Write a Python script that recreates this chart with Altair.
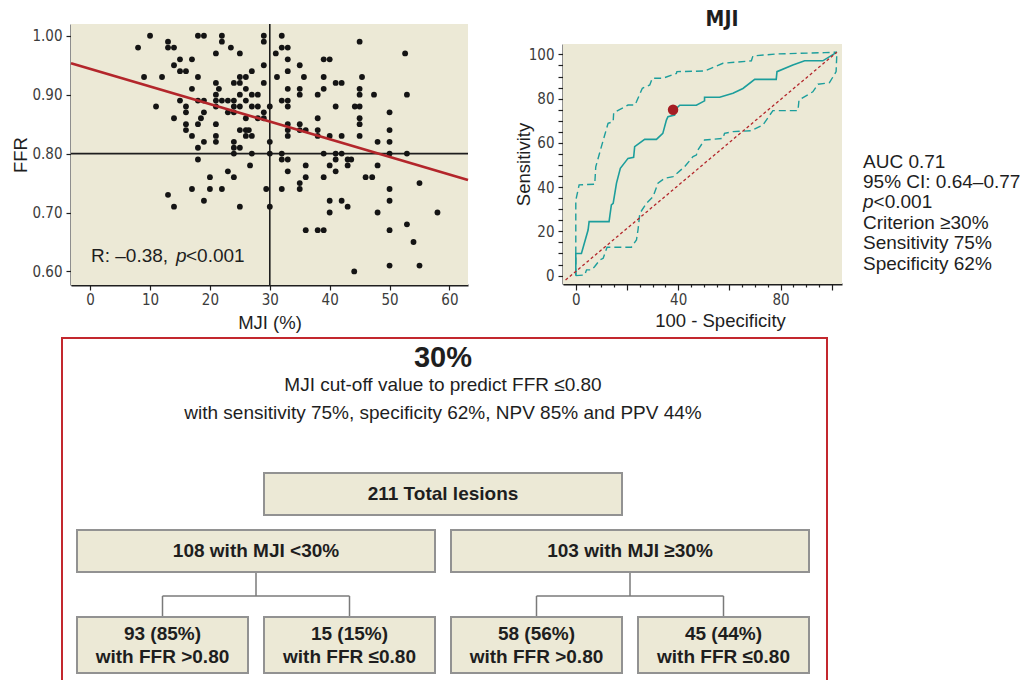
import altair as alt
import pandas as pd

W, H = 1031, 680

# ---------------- data ----------------
# Lesion-level values: myocardial jeopardy index (MJI, %) and FFR
lesion_mji = [
    8, 9, 10, 11, 12,
    13, 13, 13,
    14, 14, 14, 14,
    15, 15, 15,
    16, 16, 16, 16, 16,
    17, 17, 17, 17,
    18, 18, 18, 18, 18, 18, 18.5,
    19, 19, 19, 19, 19,
    20, 20,
    21, 21, 21, 21, 21, 21, 21, 21, 21.5,
    22, 22, 22, 22,
    23, 23, 23, 23.5,
    24, 24, 24, 24, 24, 24, 24, 24,
    25, 25, 25, 25, 25, 25, 25, 25,
    26, 26, 26, 26, 26, 26, 26.5, 26.7,
    27, 27, 27, 27, 27,
    28, 28, 28,
    29, 29, 29, 29, 29, 29, 29.4,
    30, 30, 30, 30,
    31, 31.2,
    32, 32, 32, 32, 32, 32,
    33, 33, 33, 33, 33, 33, 33, 33, 33, 33, 33,
    35, 35, 35, 35, 35, 35, 35, 35.7,
    36, 36, 36, 36,
    38, 38, 38, 38, 38,
    39, 39, 39, 39, 39, 39,
    40, 40, 40, 40, 40,
    41, 41, 41, 41, 41,
    42, 42, 42, 42,
    43, 43, 43, 43.6, 44.1, 44.2,
    45, 45, 45, 45, 45, 45, 45, 45.4,
    46, 47.1, 47.4,
    48, 48, 48,
    50, 50, 50, 50, 50, 50, 50, 50,
    52.6, 52.9, 52.9, 52.9,
    54, 55, 55, 58,
]
lesion_ffr = [
    0.98, 0.93, 1.00, 0.88, 0.93,
    0.99, 0.98, 0.73,
    0.98, 0.95, 0.86, 0.71,
    0.96, 0.94, 0.89,
    0.94, 0.88, 0.87, 0.85, 0.84,
    0.96, 0.91, 0.83, 0.74,
    1.00, 0.93, 0.89, 0.85, 0.81, 0.79, 0.86,
    1.00, 0.89, 0.87, 0.82, 0.72,
    0.76, 0.74,
    0.97, 0.92, 0.90, 0.89, 0.88, 0.85, 0.83, 0.82, 0.91,
    1.00, 0.99, 0.89, 0.74,
    0.89, 0.87, 0.77, 0.98,
    0.92, 0.89, 0.88, 0.87, 0.82, 0.81, 0.80, 0.76,
    0.97, 0.93, 0.92, 0.90, 0.88, 0.84, 0.81, 0.71,
    0.93, 0.91, 0.89, 0.86, 0.84, 0.83, 0.84, 0.78,
    0.94, 0.90, 0.88, 0.83, 0.80,
    0.90, 0.88, 0.86,
    1.00, 0.99, 0.95, 0.92, 0.87, 0.86, 0.74,
    0.88, 0.82, 0.80, 0.71,
    0.97, 0.93,
    1.00, 0.98, 0.89, 0.80, 0.79, 0.74,
    0.98, 0.96, 0.94, 0.91, 0.89, 0.88, 0.85, 0.84, 0.83, 0.79, 0.77,
    0.95, 0.91, 0.90, 0.85, 0.84, 0.75, 0.74, 0.93,
    0.84, 0.78, 0.76, 0.67,
    0.90, 0.86, 0.84, 0.83, 0.67,
    0.96, 0.93, 0.91, 0.80, 0.76, 0.67,
    0.96, 0.83, 0.78, 0.72, 0.70,
    0.92, 0.88, 0.80, 0.79, 0.77,
    0.92, 0.83, 0.80, 0.72,
    0.79, 0.78, 0.71, 0.79, 0.60, 0.88,
    0.99, 0.91, 0.90, 0.88, 0.86, 0.85, 0.83, 0.93,
    0.76, 0.76, 0.90,
    0.82, 0.78, 0.70,
    0.87, 0.84, 0.82, 0.80, 0.74, 0.72, 0.67, 0.61,
    0.97, 0.90, 0.80, 0.68,
    0.65, 0.75, 0.61, 0.70,
]

# Linear fit FFR = intercept + slope * MJI
fit_intercept = 0.944
fit_slope = -0.00299
cutoff_mji = 30
ffr_threshold = 0.80

# ROC curve of MJI for FFR <= 0.80 (100 - specificity, sensitivity) and its 95% band
roc_fpr = [0, 0, 2.2, 4.8, 5.2, 13, 13.3, 13.9, 14.6, 15.9, 17.4, 20.4, 22.6, 23,
           26.9, 31.5, 34, 35.4, 36, 38.6, 39.3, 40.6, 47.1, 50.3, 50.3, 56.2,
           61.4, 65.3, 69.9, 78.3, 78.6, 84.8, 89.4, 96.5, 102]
roc_sens = [0, 10, 10, 20.6, 24.4, 24.4, 27, 32, 32.7, 41.8, 48.5, 53, 53.5, 58.3,
            61.6, 61.6, 64.3, 70.3, 71.8, 72.6, 75.6, 77, 77, 79, 80.6, 80.6,
            82.4, 84.6, 88.7, 88.7, 92.2, 95.2, 97.1, 97.1, 101]
ci_hi_fpr = [0, 0, 1.3, 7.4, 7.8, 10, 12.6, 14.6, 14.8, 16.9, 20.4, 23, 23.7, 26,
             28.9, 29.9, 34, 39.3, 39.5, 50.3, 57.5, 68.6, 69.2, 78.3, 97.2, 102]
ci_hi_sens = [0, 34, 41, 41.3, 49.2, 58.3, 68.8, 69.6, 73.6, 74.9, 77.1, 77.1, 78.6,
              84.7, 86.2, 89.2, 89.2, 91.4, 92.2, 92.5, 96, 97.1, 99.3, 100.2, 100.8, 101]
ci_lo_fpr = [0, 3.5, 4.2, 6.1, 7.4, 9.4, 10.7, 12.2, 21.7, 23.7, 24.3, 25, 27.6, 30.2,
             32.1, 34.7, 38, 42.5, 45.8, 47.1, 47.7, 50.3, 57.5, 58.1, 61.4, 68.6,
             73.1, 77, 86.8, 87.2, 92.6, 94.6, 99.1, 101.7, 102]
ci_lo_sens = [0, 0.3, 2.6, 2.6, 4.1, 7.1, 7.8, 12.8, 12.8, 16.1, 20.6, 28.1, 32.7, 35.7,
              41.8, 44, 44.7, 49.2, 53.8, 54.5, 56.8, 61.3, 62, 64.3, 65.1, 65.5,
              68.1, 74.6, 74.6, 79.4, 83.1, 86.5, 87.2, 92.2, 101]
chance_fpr = [-4, 102]
chance_sens = [-2, 101]
sens_pct, spec_pct = 75, 62

roc_notes = ["AUC 0.71", "95% CI: 0.64–0.77", "<0.001",
             f"Criterion ≥{cutoff_mji}%", f"Sensitivity {sens_pct}%", f"Specificity {spec_pct}%"]

# Classification tree at the 30% cut-off
box_label = ["211 Total lesions", "108 with MJI <30%", "103 with MJI ≥30%",
             "93 (85%)", "15 (15%)", "58 (56%)", "45 (44%)"]
box_note = ["", "", "", "with FFR >0.80", "with FFR ≤0.80", "with FFR >0.80", "with FFR ≤0.80"]
box_row = [0, 1, 1, 2, 2, 2, 2]
box_from = [1, 0, 2, 0, 1, 2, 3]
box_to = [3, 2, 4, 1, 2, 3, 4]
box_parent = [-1, -1, -1, 1, 1, 2, 2]
header_lines = ["MJI cut-off value to predict FFR ≤0.80",
                "with sensitivity 75%, specificity 62%, NPV 85% and PPV 44%"]

# ---------------- style & layout ----------------
PANEL = "#ECE9D6"
INK = "#1E1E1E"
FIT_RED = "#B3262B"
DOT_RED = "#A51D23"
TEAL = "#1C9E9C"
BOX_EDGE = "#929292"
FRAME_RED = "#C3282E"
NARROW = "DejaVu Sans Condensed, sans-serif"
SANS = "Liberation Sans, Arial, sans-serif"

SC_L, SC_R, SC_T, SC_B = 71, 468, 24, 285       # scatter plot area
RC_L, RC_R, RC_T, RC_B = 563, 842, 44, 284      # ROC plot area
sc_x_dom, sc_y_dom = [-3.2, 63.1], [0.577, 1.020]
rc_x_dom, rc_y_dom = [-5, 104], [-3.8, 104.7]


def make_axis(orient, offset, values, title, title_x, title_y, **kw):
    spec = dict(orient=orient, offset=offset, values=values, title=title, grid=False,
                domainColor=INK, domainWidth=2, tickColor=INK, tickWidth=1.2,
                labelFont=NARROW, labelFontSize=15, labelColor="#3C3C3C",
                labelOverlap=False, labelFlush=False,
                titleFont=SANS, titleFontSize=18.5, titleFontWeight="normal",
                titleColor=INK, titleX=title_x, titleY=title_y,
                titleBaseline="middle", titleAlign="center")
    spec.update(kw)
    return alt.Axis(**spec)


# ---------------- scatter panel ----------------
sx = alt.Scale(domain=sc_x_dom, range=[SC_L, SC_R], nice=False, zero=False)
sy = alt.Scale(domain=sc_y_dom, range=[SC_B, SC_T], nice=False, zero=False)
ax_sx = make_axis("bottom", SC_B - H, [0, 10, 20, 30, 40, 50, 60], "MJI (%)",
                  (SC_L + SC_R) / 2, 37, tickSize=5, labelPadding=2)
ax_sy = make_axis("left", -SC_L, [0.6, 0.7, 0.8, 0.9, 1.0], "FFR",
                  -51, (SC_T + SC_B) / 2, tickSize=5, labelPadding=4, format=".2f")


def sxy(xf, yf):
    return dict(x=alt.X(xf, scale=sx, axis=ax_sx), y=alt.Y(yf, scale=sy, axis=ax_sy))


sc_bg = alt.Chart(pd.DataFrame({"x0": [sc_x_dom[0]], "x1": [sc_x_dom[1]],
                                "y0": [sc_y_dom[0]], "y1": [sc_y_dom[1]]})).mark_rect(
    color=PANEL).encode(x2="x1:Q", y2="y1:Q", **sxy("x0:Q", "y0:Q"))
sc_vref = alt.Chart(pd.DataFrame({"x": [cutoff_mji], "y0": [sc_y_dom[0]], "y1": [sc_y_dom[1]]})).mark_rule(
    color=INK, strokeWidth=1.6).encode(y2="y1:Q", **sxy("x:Q", "y0:Q"))
sc_href = alt.Chart(pd.DataFrame({"x0": [sc_x_dom[0]], "x1": [sc_x_dom[1]], "y": [ffr_threshold]})).mark_rule(
    color=INK, strokeWidth=1.6).encode(x2="x1:Q", **sxy("x0:Q", "y:Q"))
sc_pts = alt.Chart(pd.DataFrame({"mji": lesion_mji, "ffr": lesion_ffr})).mark_circle(
    size=34, color="#141414", opacity=1).encode(**sxy("mji:Q", "ffr:Q"))
sc_fit = alt.Chart(pd.DataFrame({"mji": sc_x_dom,
                                 "ffr": [fit_intercept + fit_slope * v for v in sc_x_dom]})).mark_line(
    color=FIT_RED, strokeWidth=2.6).encode(**sxy("mji:Q", "ffr:Q"))
scatter = alt.layer(sc_bg, sc_vref, sc_href, sc_pts, sc_fit)

# ---------------- ROC panel ----------------
rx = alt.Scale(domain=rc_x_dom, range=[RC_L, RC_R], nice=False, zero=False)
ry = alt.Scale(domain=rc_y_dom, range=[RC_B, RC_T], nice=False, zero=False)
ax_rx = make_axis("bottom", RC_B - H, list(range(0, 101, 5)), "100 - Specificity", 720, 36,
                  tickSize={"condition": {"test": "datum.value % 20 === 0", "value": 6}, "value": 3},
                  labelPadding=2, labelExpr="datum.value % 40 === 0 ? datum.label : ''")
ax_ry = make_axis("left", -RC_L, list(range(0, 101, 5)), "Sensitivity", -40, (RC_T + RC_B) / 2,
                  tickSize=5, labelPadding=4,
                  labelExpr="datum.value % 20 === 0 ? datum.label : ''")


def rxy(xf, yf):
    return dict(x=alt.X(xf, scale=rx, axis=ax_rx), y=alt.Y(yf, scale=ry, axis=ax_ry))


def roc_line(xs, ys, color, width, dash=None):
    mark = dict(color=color, strokeWidth=width)
    if dash:
        mark["strokeDash"] = dash
    df = pd.DataFrame({"fpr": xs, "sens": ys, "i": list(range(len(xs)))})
    return alt.Chart(df).mark_line(**mark).encode(order="i:Q", **rxy("fpr:Q", "sens:Q"))


rc_bg = alt.Chart(pd.DataFrame({"x0": [rc_x_dom[0]], "x1": [rc_x_dom[1]],
                                "y0": [rc_y_dom[0]], "y1": [rc_y_dom[1]]})).mark_rect(
    color=PANEL).encode(x2="x1:Q", y2="y1:Q", **rxy("x0:Q", "y0:Q"))
rc_dot = alt.Chart(pd.DataFrame({"fpr": [100 - spec_pct], "sens": [sens_pct]})).mark_circle(
    size=110, color=DOT_RED, opacity=1).encode(**rxy("fpr:Q", "sens:Q"))
roc = alt.layer(
    rc_bg,
    roc_line(ci_hi_fpr, ci_hi_sens, TEAL, 1.4, [7, 4]),
    roc_line(ci_lo_fpr, ci_lo_sens, TEAL, 1.4, [7, 4]),
    roc_line(roc_fpr, roc_sens, TEAL, 1.6),
    roc_line(chance_fpr, chance_sens, FIT_RED, 1.3, [3, 2.5]),
    rc_dot,
)

# ---------------- classification tree ----------------
fx = alt.Scale(domain=[0, 4], range=[69, 817], nice=False, zero=False)
fy = alt.Scale(domain=[0, 342], range=[338, 680], nice=False, zero=False)
row_top, row_bot, elbow_y = [135, 192, 279], [177, 234, 335], 258
line_gap = 23


def fxy(xf, yf):
    return dict(x=alt.X(xf, scale=fx, axis=None), y=alt.Y(yf, scale=fy, axis=None))


boxes = pd.DataFrame({
    "label": box_label, "note": box_note,
    "x0": box_from, "x1": box_to,
    "y0": [row_top[r] for r in box_row], "y1": [row_bot[r] for r in box_row],
})
boxes["xc"] = (boxes["x0"] + boxes["x1"]) / 2
boxes["yc"] = (boxes["y0"] + boxes["y1"]) / 2
two_line = boxes["note"] != ""
boxes["y_label"] = boxes["yc"] - two_line * line_gap / 2
boxes["y_note"] = boxes["yc"] + line_gap / 2

links = []
for p in sorted(set(v for v in box_parent if v >= 0)):
    kids = [i for i, v in enumerate(box_parent) if v == p]
    pc = (box_from[p] + box_to[p]) / 2
    kc = [(box_from[k] + box_to[k]) / 2 for k in kids]
    links.append((pc, pc, row_bot[box_row[p]], elbow_y))
    links.append((min(kc), max(kc), elbow_y, elbow_y))
    for k, c in zip(kids, kc):
        links.append((c, c, elbow_y, row_top[box_row[k]]))
links = pd.DataFrame(links, columns=["x0", "x1", "y0", "y1"])

box_font = dict(font=SANS, fontWeight="bold", fontSize=19, align="center",
                baseline="middle", color=INK)
fl_frame = alt.Chart(pd.DataFrame({"k": [0]})).mark_rect(
    fillOpacity=0, stroke=FRAME_RED, strokeWidth=2).encode(
    x=alt.value(62), x2=alt.value(827), y=alt.value(338), y2=alt.value(700))
fl_links = alt.Chart(links).mark_rule(color="#7A7A7A", strokeWidth=1.5).encode(
    x2="x1:Q", y2="y1:Q", **fxy("x0:Q", "y0:Q"))
fl_boxes = alt.Chart(boxes).mark_rect(
    fill=PANEL, stroke=BOX_EDGE, strokeWidth=2, xOffset=8, x2Offset=-8).encode(
    x2="x1:Q", y2="y1:Q", **fxy("x0:Q", "y0:Q"))
fl_label = alt.Chart(boxes).mark_text(**box_font).encode(
    text="label:N", **fxy("xc:Q", "y_label:Q"))
fl_note = alt.Chart(boxes[two_line]).mark_text(**box_font).encode(
    text="note:N", **fxy("xc:Q", "y_note:Q"))
fl_head = alt.Chart(pd.DataFrame({"x": [2], "y": [20], "t": [f"{cutoff_mji}%"]})).mark_text(
    font=SANS, fontWeight="bold", fontSize=29, align="center", baseline="middle",
    color=INK).encode(text="t:N", **fxy("x:Q", "y:Q"))
fl_sub = alt.Chart(pd.DataFrame({"x": [2, 2], "y": [47, 75], "t": header_lines})).mark_text(
    font=SANS, fontSize=19, align="center", baseline="middle",
    color=INK).encode(text="t:N", **fxy("x:Q", "y:Q"))
flow = alt.layer(fl_frame, fl_links, fl_boxes, fl_label, fl_note, fl_head, fl_sub)


# ---------------- free annotations (pixel positions) ----------------
def note_layer(texts, xs, ys, **mark):
    df = pd.DataFrame({"t": texts, "x": xs, "y": ys})
    return alt.Chart(df).mark_text(baseline="middle", color=INK, **mark).encode(
        text="t:N",
        x=alt.X("x:Q", scale=None, axis=None),
        y=alt.Y("y:Q", scale=None, axis=None))


notes_regular = note_layer(
    ["R: –0.38,", "<0.001"] + roc_notes,
    [91, 186, 863, 863, 873.6, 863, 863, 863],
    [256, 256, 162, 182, 202, 223, 243, 264],
    font=SANS, fontSize=19, align="left")
notes_italic = note_layer(["p", "p"], [176, 863], [256, 202],
                          font=SANS, fontSize=19, fontStyle="italic", align="left")
notes_title = note_layer(["MJI"], [722], [20], font=NARROW, fontSize=21,
                         fontWeight="bold", align="center")

chart = alt.layer(scatter, roc, flow, notes_regular, notes_italic, notes_title).resolve_scale(
    x="independent", y="independent"
).properties(
    width=W, height=H, padding=0, autosize=alt.AutoSizeParams(type="none"),
    background="white",
).configure_view(strokeWidth=0)

chart.save("out.html", embed_options={"renderer": "svg", "actions": False})
